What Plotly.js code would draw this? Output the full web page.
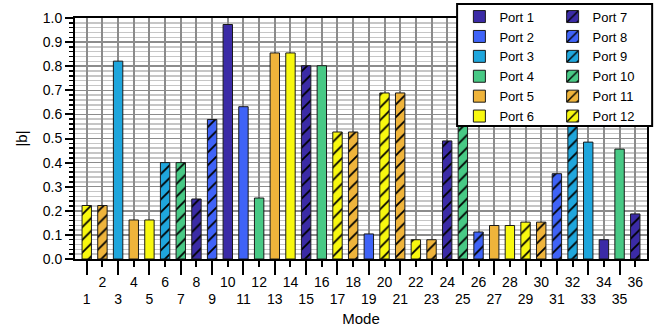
<!DOCTYPE html>
<html>
<head>
<meta charset="utf-8">
<script src="https://cdn.plot.ly/plotly-3.0.1.min.js"></script>
<style>
  html, body { margin: 0; padding: 0; background: #fff; }
  #chart { width: 668px; height: 332px; }
</style>
</head>
<body>
<div id="chart"></div>
<script>
// ---- data ----
const modes = [1,2,3,4,5,6,7,8,9,10,11,12,13,14,15,16,17,18,19,20,21,22,23,24,25,26,27,28,29,30,31,32,33,34,35,36];
const modePort = [12,11,3,5,6,9,10,7,8,1,2,4,5,6,7,4,12,11,2,12,11,12,11,7,10,8,5,6,12,11,8,9,3,1,4,7];
const modeValue = [0.222,0.222,0.821,0.162,0.162,0.400,0.400,0.249,0.579,0.973,0.632,0.253,
                   0.855,0.855,0.802,0.802,0.527,0.527,0.104,0.689,0.689,0.080,0.080,0.490,
                   0.620,0.112,0.139,0.139,0.153,0.153,0.354,0.620,0.485,0.080,0.456,0.187];
const portNames = ["Port 1","Port 2","Port 3","Port 4","Port 5","Port 6",
                   "Port 7","Port 8","Port 9","Port 10","Port 11","Port 12"];
const baseColors = ["#3b2ba6","#3f63f7","#1fa6dc","#48c985","#efb43b","#f8f80f"];
const yTickVals = [0,0.1,0.2,0.3,0.4,0.5,0.6,0.7,0.8,0.9,1.0];
const oddModes = modes.filter(m => m % 2 === 1);
const evenModes = modes.filter(m => m % 2 === 0);

const FONT = "Liberation Sans, Arial, Helvetica, sans-serif";

const traces = portNames.map((name, i) => {
  const p = i + 1;
  const xs = [], ys = [];
  modes.forEach((m, k) => { if (modePort[k] === p) { xs.push(m); ys.push(modeValue[k]); } });
  const col = baseColors[i % 6];
  const hatched = i >= 6;
  const marker = { color: col, line: { color: "#1a1a1a", width: 1 } };
  if (hatched) {
    marker.pattern = { shape: "/", fgcolor: "#000000", bgcolor: col, size: 9, solidity: 0.2, fillmode: "replace" };
  }
  return {
    type: "bar", name: name, x: xs, y: ys, width: 0.6,
    marker: marker, xaxis: "x", yaxis: "y",
    legend: hatched ? "legend2" : "legend",
    hoverinfo: "x+y+name"
  };
});

const legendCommon = {
  bgcolor: "rgba(0,0,0,0)", borderwidth: 0,
  font: { family: FONT, size: 13, color: "#000" },
  orientation: "v", xanchor: "left", yanchor: "top",
  traceorder: "normal", itemwidth: 30, tracegroupgap: 0
};

const layout = {
  width: 668, height: 332,
  margin: { l: 75, r: 21, t: 18, b: 73, autoexpand: false },
  paper_bgcolor: "#ffffff", plot_bgcolor: "#ffffff",
  font: { family: FONT, size: 14, color: "#000" },
  barmode: "overlay",
  showlegend: true,
  legend: Object.assign({}, legendCommon, { x: 0.672, y: 1.068 }),
  legend2: Object.assign({}, legendCommon, { x: 0.835, y: 1.068 }),
  xaxis: {
    range: [0.25, 36.75], tickmode: "array", tickvals: oddModes, ticktext: oddModes.map(String),
    ticks: "outside", ticklen: 14, tickwidth: 2, tickcolor: "#000",
    ticklabelstandoff: 12,
    showgrid: true, gridcolor: "#8c8c8c", gridwidth: 2,
    showline: true, linecolor: "#000", linewidth: 2, mirror: true,
    zeroline: false, tickfont: { family: FONT, size: 14 },
    title: { text: "Mode", font: { family: FONT, size: 15 }, standoff: 8 },
    automargin: false, fixedrange: true
  },
  xaxis2: {
    overlaying: "x", anchor: "y", side: "bottom",
    range: [0.25, 36.75], tickmode: "array", tickvals: evenModes, ticktext: evenModes.map(String),
    ticks: "outside", ticklen: 7, tickwidth: 2, tickcolor: "#000",
    ticklabelstandoff: 3,
    showgrid: true, gridcolor: "#8c8c8c", gridwidth: 2,
    showline: false, zeroline: false, tickfont: { family: FONT, size: 14 },
    automargin: false, fixedrange: true
  },
  yaxis: {
    range: [0, 1.0], tickmode: "array", tickvals: yTickVals, tickformat: ".1f",
    ticks: "outside", ticklen: 8, tickwidth: 2, tickcolor: "#000",
    showgrid: true, gridcolor: "#8c8c8c", gridwidth: 1.5,
    minor: { dtick: 0.02, tick0: 0, ticks: "outside", ticklen: 4, tickwidth: 1.5, tickcolor: "#000",
             showgrid: true, gridcolor: "#c6c6c6", gridwidth: 1.5 },
    showline: true, linecolor: "#000", linewidth: 2, mirror: true,
    zeroline: false, tickfont: { family: FONT, size: 14 },
    title: { text: "|b|", font: { family: FONT, size: 15 }, standoff: 11 },
    automargin: false, fixedrange: true
  },
  shapes: [{
    type: "rect", xref: "paper", yref: "paper", layer: "above",
    x0: 0.668, x1: 1.009, y0: 0.552, y1: 1.058,
    fillcolor: "#ffffff", line: { color: "#000", width: 2 }
  }]
};

// helper trace (no visible marks) so the even-numbered tick axis is drawn
traces.push({ type: "bar", x: evenModes, y: evenModes.map(() => null), xaxis: "x2", yaxis: "y",
              showlegend: false, hoverinfo: "skip", marker: { color: "rgba(0,0,0,0)" } });

Plotly.newPlot("chart", traces, layout, { displayModeBar: false, staticPlot: true });
</script>
</body>
</html>
